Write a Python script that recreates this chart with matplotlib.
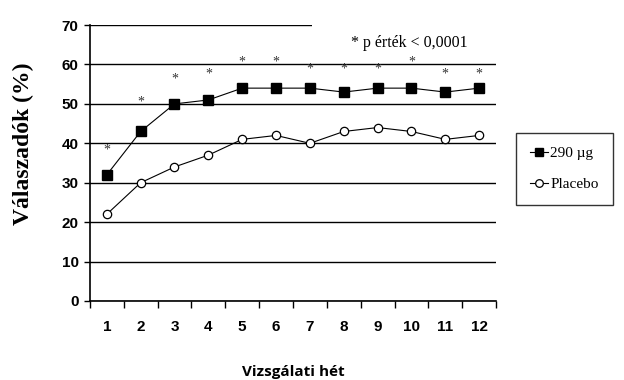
import numpy as np
import matplotlib.pyplot as plt

# Data
weeks = list(range(1, 13))
dose_290 = [32, 43, 50, 51, 54, 54, 54, 53, 54, 54, 53, 54]
placebo = [22, 30, 34, 37, 41, 42, 40, 43, 44, 43, 41, 42]
star_y = [38.8, 51, 56.9, 58.1, 61.2, 61.2, 59.4, 59.4, 59.4, 61.2, 58.1, 58.1]
y_ticks = [0, 10, 20, 30, 40, 50, 60, 70]

fig = plt.figure(figsize=(6.24, 3.8), dpi=100)
ax = fig.add_axes([0.144, 0.208, 0.651, 0.726])

for t in y_ticks:
    ax.axhline(t, color='black', lw=1.0, zorder=1)

l1, = ax.plot(weeks, dose_290, '-', color='black', lw=0.8, marker='s', ms=7,
              mfc='black', mec='black', zorder=3)
l2, = ax.plot(weeks, placebo, '-', color='black', lw=0.8, marker='o', ms=6,
              mfc='white', mec='black', mew=0.9, zorder=3)

for w, s in zip(weeks, star_y):
    ax.text(w, s - 0.5, '*', ha='center', va='center', fontsize=10,
            family='Liberation Serif', color='#333333', zorder=6)

ax.set_xlim(0.5, 12.5)
ax.set_ylim(0, 70)
ax.set_yticks(y_ticks)
ax.set_xticks(weeks)
ax.set_xticks(np.arange(0.5, 13, 1), minor=True)
ax.tick_params(axis='x', which='major', length=0, pad=14)
ax.tick_params(axis='x', which='minor', length=5, width=1, direction='out')
ax.tick_params(axis='y', length=4, width=1, direction='out', pad=4)
for lab in ax.get_xticklabels() + ax.get_yticklabels():
    lab.set_fontweight('bold')
    lab.set_family('Liberation Sans')
    lab.set_fontsize(11)

for sp in ['top', 'right']:
    ax.spines[sp].set_visible(False)
ax.spines['left'].set_linewidth(1.2)
ax.spines['bottom'].set_linewidth(1.2)

ax.set_ylabel('Válaszadók (%)', family='Liberation Serif', fontweight='bold',
              fontsize=17)
ax.yaxis.set_label_coords(-0.138, 0.57)
ax.set_xlabel('Vizsgálati hét', family='Open Sans', fontweight='bold',
              fontsize=11, labelpad=22)

ax.text(0.93, 0.935, '* p érték < 0,0001', transform=ax.transAxes,
        ha='right', va='center', family='Liberation Serif', fontsize=11.5,
        zorder=4)
ax.add_patch(plt.Rectangle((0.548, 0.975), 0.5, 0.05, transform=ax.transAxes,
                           facecolor='white', edgecolor='none', clip_on=False,
                           zorder=2))

leg = fig.legend([l1, l2], ['290 µg', 'Placebo'], loc='upper left',
                 bbox_to_anchor=(0.827, 0.65), borderaxespad=0,
                 frameon=True, fancybox=False,
                 edgecolor='black', handlelength=1.2, handletextpad=0.15,
                 labelspacing=1.1, borderpad=0.9,
                 prop={'family': 'Liberation Serif', 'size': 11})
leg.get_frame().set_linewidth(1.0)
for h in leg.legend_handles:
    h.set_markersize(5.5)

fig.savefig('out.png', dpi=100)
